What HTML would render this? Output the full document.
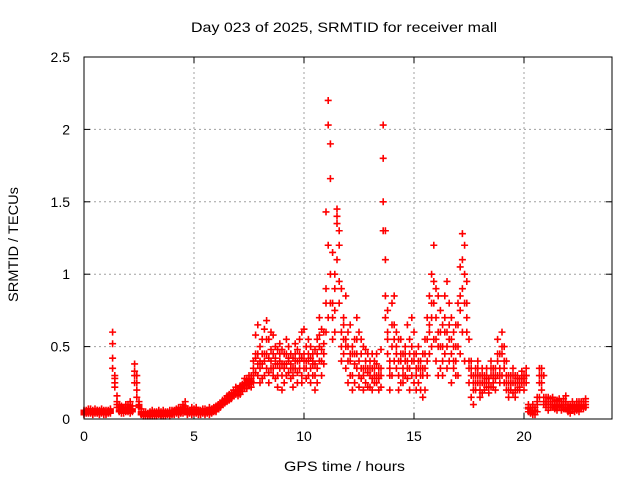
<!DOCTYPE html>
<html><head><meta charset="utf-8"><style>
body{margin:0;background:#fff;}
svg{display:block;font-family:"Liberation Sans",sans-serif;}
</style></head><body>
<svg id="chart" width="640" height="480" viewBox="0 0 640 480" xmlns="http://www.w3.org/2000/svg">
<rect width="640" height="480" fill="#fff"/>
<text x="191" y="32" font-size="14" textLength="306" lengthAdjust="spacingAndGlyphs" fill="#000">Day 023 of 2025, SRMTID for receiver mall</text>
<text transform="translate(18,302) rotate(-90)" font-size="14" textLength="115" lengthAdjust="spacingAndGlyphs" fill="#000">SRMTID / TECUs</text>
<text x="284" y="471" font-size="14" textLength="121" lengthAdjust="spacingAndGlyphs" fill="#000">GPS time / hours</text>
<g id="grid"></g><g id="ticks"></g><g id="marks"></g>
<rect x="84" y="57" width="528" height="362" fill="none" stroke="#000" stroke-width="1"/>
</svg>
<script>
const xTicks=[0,5,10,15,20];
const yTicks=[0,0.5,1,1.5,2,2.5];
const yTickLabels=["0","0.5","1","1.5","2","2.5"];
const hours=[0,0.1,0.2,0.3,0.4,0.5,0.6,0.7,0.8,0.9,1,1.1,1.2,1.3,1.4,1.5,1.6,1.7,1.8,1.9,2,2.1,2.2,2.3,2.4,2.5,2.6,2.7,2.8,2.9,3,3.1,3.2,3.3,3.4,3.5,3.6,3.7,3.8,3.9,4,4.1,4.2,4.3,4.4,4.5,4.6,4.7,4.8,4.9,5,5.1,5.2,5.3,5.4,5.5,5.6,5.7,5.8,5.9,6,6.1,6.2,6.3,6.4,6.5,6.6,6.7,6.8,6.9,7,7.1,7.2,7.3,7.4,7.5,7.6,7.7,7.8,7.9,8,8.1,8.2,8.3,8.4,8.5,8.6,8.7,8.8,8.9,9,9.1,9.2,9.3,9.4,9.5,9.6,9.7,9.8,9.9,10,10.1,10.2,10.3,10.4,10.5,10.6,10.7,10.8,10.9,11,11.1,11.2,11.3,11.4,11.5,11.6,11.7,11.8,11.9,12,12.1,12.2,12.3,12.4,12.5,12.6,12.7,12.8,12.9,13,13.1,13.2,13.3,13.4,13.5,13.6,13.7,13.8,13.9,14,14.1,14.2,14.3,14.4,14.5,14.6,14.7,14.8,14.9,15,15.1,15.2,15.3,15.4,15.5,15.6,15.7,15.8,15.9,16,16.1,16.2,16.3,16.4,16.5,16.6,16.7,16.8,16.9,17,17.1,17.2,17.3,17.4,17.5,17.6,17.7,17.8,17.9,18,18.1,18.2,18.3,18.4,18.5,18.6,18.7,18.8,18.9,19,19.1,19.2,19.3,19.4,19.5,19.6,19.7,19.8,19.9,20,20.1,20.2,20.3,20.4,20.5,20.6,20.7,20.8,20.9,21,21.1,21.2,21.3,21.4,21.5,21.6,21.7,21.8,21.9,22,22.1,22.2,22.3,22.4,22.5,22.6,22.7,22.8];
const tecA=[.05,.06,.05,.04,.06,.05,.05,.06,.04,.05,
.05,.06,.04,.60,.28,.12,.08,.06,.07,.10,
.08,.12,.05,.38,.30,.12,.05,.03,.02,.04,
.03,.02,.04,.05,.03,.02,.04,.03,.05,.04,
.04,.06,.05,.03,.07,.06,.09,.05,.04,.06,
.05,.04,.06,.03,.05,.07,.04,.06,.05,.08,
.06,.08,.10,.12,.13,.14,.15,.16,.18,.20,
.18,.20,.22,.25,.21,.26,.30,.35,.58,.45,
.50,.38,.62,.45,.55,.40,.30,.42,.48,.35,
.30,.45,.38,.50,.28,.42,.35,.48,.40,.30,
.62,.50,.40,.35,.45,.30,.55,.70,.48,.60,
1.43,2.20,1.66,1.15,.75,1.40,1.30,.90,.70,.55,
.60,.45,.30,.55,.70,.40,.35,.50,.25,.45,
.30,.45,.25,.38,.20,.48,2.03,.85,.55,.40,
.80,.65,.45,.30,.55,.35,.40,.28,.55,.30,
.60,.35,.25,.40,.30,.55,.30,.85,1.00,1.20,
.90,.60,.75,.50,.85,.95,.55,.70,.40,.65,
.80,1.05,1.28,1.20,.95,.40,.30,.20,.35,.25,
.30,.25,.20,.35,.28,.30,.22,.35,.40,.25,
.60,.35,.25,.30,.20,.35,.25,.30,.20,.30,
.25,.30,.05,.08,.10,.06,.05,.15,.35,.30,
.12,.15,.10,.08,.12,.10,.08,.12,.10,.08,
.06,.08,.10,.05,.12,.08,.10,.12,.10];
const tecB=[.03,.04,.07,.05,.03,.07,.04,.03,.06,.03,
.03,.04,.07,.52,.22,.16,.05,.09,.04,.06,
.05,.07,.09,.33,.20,.08,.07,.05,.04,.02,
.05,.04,.02,.03,.06,.04,.02,.05,.03,.06,
.06,.03,.07,.05,.04,.10,.05,.07,.06,.03,
.07,.06,.03,.06,.04,.05,.06,.03,.07,.05,
.09,.07,.11,.10,.14,.12,.17,.14,.16,.22,
.16,.23,.19,.21,.27,.24,.28,.25,.42,.65,
.25,.55,.30,.68,.32,.48,.58,.28,.38,.52,
.48,.25,.55,.32,.45,.30,.52,.25,.35,.60,
.35,.28,.55,.25,.30,.48,.35,.40,.62,.38,
.90,2.03,1.90,.80,1.00,1.45,1.20,.60,.45,.85,
.40,.65,.50,.25,.35,.60,.28,.30,.48,.32,
.22,.28,.40,.25,.35,.30,1.80,1.30,.75,.30,
.50,.85,.35,.55,.25,.45,.30,.65,.35,.40,
.25,.45,.35,.20,.45,.20,.40,.60,.80,.95,
.40,.85,.35,.65,.45,.35,.80,.45,.60,.30,
.50,.75,.90,1.00,.60,.55,.15,.30,.25,.40,
.20,.35,.30,.22,.25,.40,.30,.28,.55,.45,
.45,.50,.20,.20,.30,.25,.15,.20,.28,.25,
.20,.35,.07,.04,.06,.03,.10,.25,.30,.12,
.08,.10,.14,.12,.07,.13,.10,.06,.14,.12,
.10,.04,.07,.10,.06,.12,.08,.09,.14];
const tecC=[.06,.05,.04,.07,.05,.04,.06,.05,.07,.06,
.06,.05,.05,.42,.30,.08,.10,.04,.08,.05,
.10,.04,.06,.25,.15,.10,.03,.02,.05,.03,
.02,.06,.05,.02,.04,.05,.06,.02,.04,.02,
.03,.05,.04,.08,.05,.04,.12,.03,.05,.08,
.04,.08,.05,.04,.07,.03,.05,.08,.04,.06,
.05,.10,.08,.13,.11,.16,.13,.18,.20,.17,
.20,.17,.24,.28,.23,.30,.22,.40,.32,.30,
.40,.28,.45,.35,.25,.60,.35,.50,.22,.45,
.20,.38,.30,.42,.35,.22,.40,.32,.55,.25,
.45,.40,.30,.50,.38,.20,.25,.58,.30,.52,
.60,.70,1.00,.55,.90,1.35,.95,.40,.65,.35,
.25,.30,.20,.38,.45,.22,.55,.20,.35,.22,
.40,.20,.30,.45,.28,.22,1.50,1.10,.60,.20,
.30,.40,.60,.20,.40,.25,.50,.40,.20,.70,
.40,.20,.50,.30,.15,.35,.70,.45,.50,.55,
.55,.30,.50,.30,.60,.50,.40,.25,.35,.50,
.30,.45,.60,.40,.70,.25,.40,.10,.20,.30,
.15,.18,.25,.30,.18,.22,.35,.20,.30,.35,
.30,.25,.40,.15,.25,.18,.30,.25,.22,.33,
.30,.25,.10,.06,.03,.08,.15,.35,.20,.10,
.15,.06,.08,.15,.10,.06,.14,.09,.07,.16,
.05,.09,.12,.07,.09,.05,.12,.07,.08];
const tecD=[.04,.05,.06,.05,.04,.05,.06,.04,.05,.05,
.04,.05,.06,.35,.25,.10,.06,.07,.06,.08,
.07,.09,.07,.30,.25,.09,.04,.04,.03,.03,
.04,.03,.03,.04,.05,.03,.03,.04,.04,.03,
.05,.04,.06,.04,.06,.08,.07,.04,.05,.05,
.06,.05,.05,.05,.06,.04,.05,.05,.06,.07,
.07,.09,.09,.11,.12,.13,.16,.15,.17,.19,
.19,.21,.21,.24,.25,.27,.26,.30,.45,.38,
.35,.45,.40,.55,.42,.35,.45,.38,.30,.40,
.38,.35,.45,.40,.38,.35,.45,.40,.45,.42,
.40,.35,.45,.42,.40,.38,.45,.50,.40,.45,
.80,1.20,.80,.70,.60,1.10,.80,.50,.55,.50,
.50,.40,.45,.45,.55,.30,.45,.35,.40,.35,
.35,.35,.35,.30,.30,.35,1.30,.70,.45,.35,
.65,.55,.50,.40,.45,.30,.45,.35,.45,.50,
.45,.30,.40,.35,.35,.45,.55,.65,.70,.80,
.70,.50,.60,.40,.70,.60,.65,.55,.50,.40,
.65,.85,1.10,.80,.80,.35,.35,.25,.30,.35,
.25,.30,.25,.28,.22,.35,.25,.30,.45,.30,
.50,.40,.30,.25,.25,.30,.20,.28,.25,.28,
.28,.30,.08,.05,.08,.05,.12,.30,.25,.15,
.10,.12,.12,.10,.09,.08,.12,.10,.12,.10,
.08,.07,.09,.08,.10,.10,.07,.10,.12];

const X0=84,X1=612,Y0=419,Y1=57;
function xs(h){return X0+(h/24)*(X1-X0);}
function ys(v){return Y0-(v/2.5)*(Y0-Y1);}
const NS="http://www.w3.org/2000/svg";
const grid=document.getElementById('grid'),ticks=document.getElementById('ticks'),marks=document.getElementById('marks');
function mk(tag,attrs,parent){const e=document.createElementNS(NS,tag);for(const k in attrs)e.setAttribute(k,attrs[k]);parent.appendChild(e);return e;}
yTicks.forEach((v,i)=>{
  const y=ys(v);
  if(v>0&&v<2.5){const g=mk('line',{x1:X0,x2:X1,y1:y,y2:y,stroke:'#a0a0a0','stroke-dasharray':'2,3'},grid);
  
  }
  mk('line',{x1:X0,x2:X0+6,y1:y,y2:y,stroke:'#000'},ticks);
  mk('line',{x1:X1,x2:X1-6,y1:y,y2:y,stroke:'#000'},ticks);
  const t=mk('text',{x:X0-14,y:y+5,'font-size':14,'text-anchor':'end'},ticks);
  t.textContent=yTickLabels[i];
  
  
});
xTicks.forEach(h=>{
  const x=xs(h);
  if(h>0){const g=mk('line',{x1:x,x2:x,y1:Y0,y2:Y1,stroke:'#a0a0a0','stroke-dasharray':'2,3'},grid);
  
  }
  mk('line',{x1:x,x2:x,y1:Y0,y2:Y0-6,stroke:'#000'},ticks);
  mk('line',{x1:x,x2:x,y1:Y1,y2:Y1+6,stroke:'#000'},ticks);
  const t=mk('text',{x:x,y:Y0+22,'font-size':14,'text-anchor':'middle'},ticks);
  t.textContent=String(h);
  
  
});
[tecA,tecB,tecC,tecD].forEach(series=>{
  let d='';
  series.forEach((v,i)=>{const x=xs(hours[i]),y=ys(v);d+=`M${x-3.5},${y}h7M${x},${y-3.5}v7`;});
  const p=mk('path',{d:d,stroke:'#ff0000','stroke-width':1.6,fill:'none'},marks);
  
  
});
</script>
</body></html>
